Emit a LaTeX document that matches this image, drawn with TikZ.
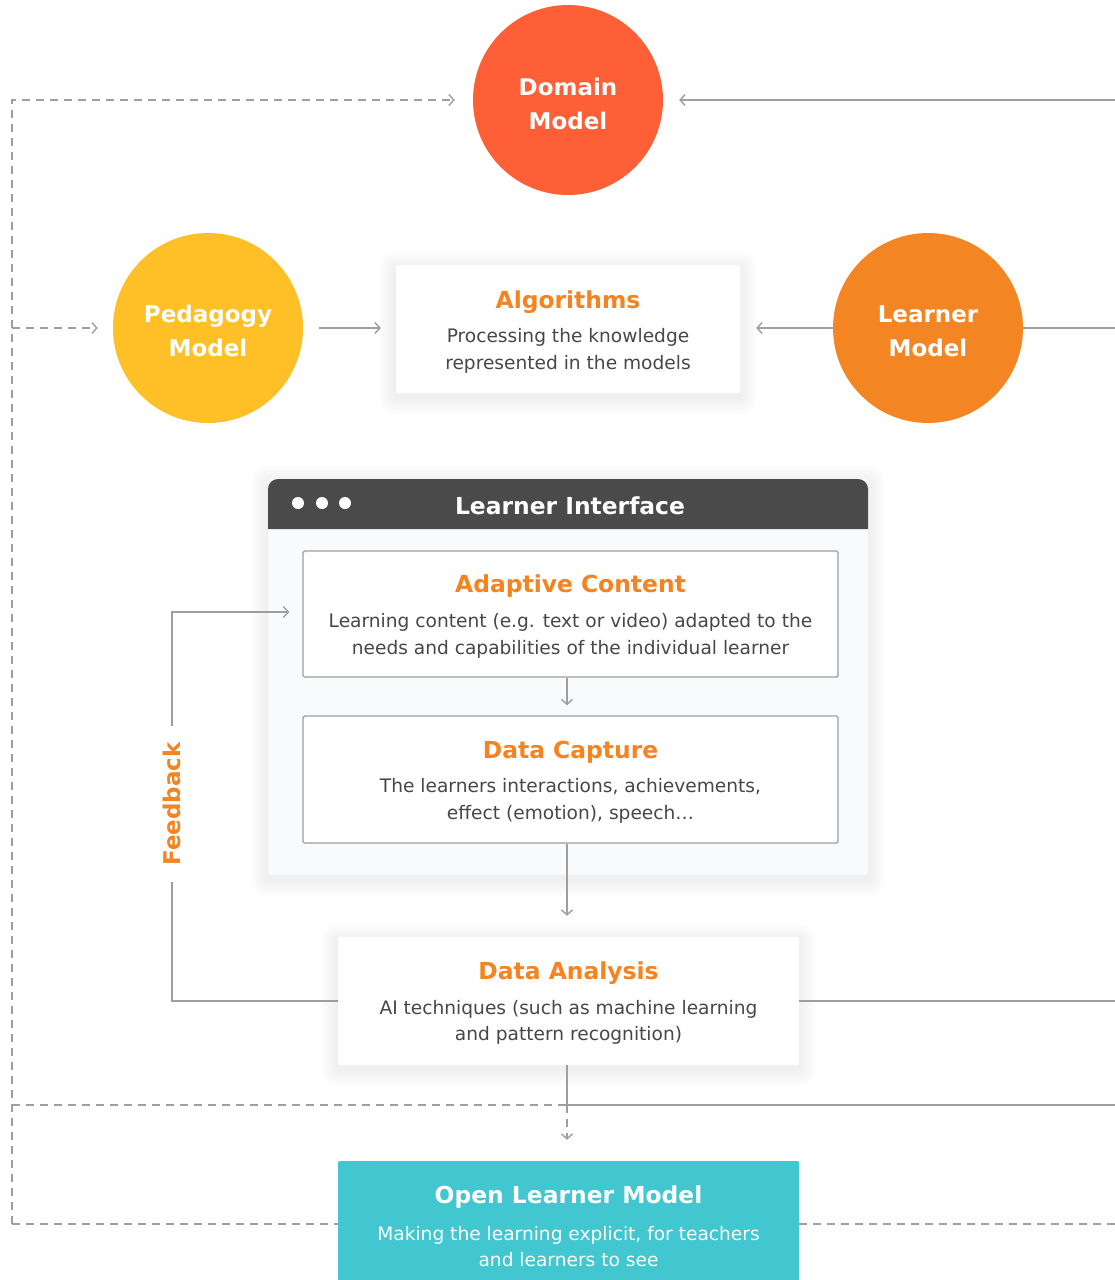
\documentclass[tikz,border=0pt]{standalone}
\usepackage{fontspec}
\setmainfont{DejaVu Sans}
\usetikzlibrary{arrows.meta,calc}

\definecolor{domainc}{HTML}{FF5F36}
\definecolor{pedac}{HTML}{FEC026}
\definecolor{learnc}{HTML}{F38623}
\definecolor{accent}{HTML}{F5831F}
\definecolor{tealc}{HTML}{42C6CF}
\definecolor{linec}{HTML}{9E9E9E}
\definecolor{textc}{HTML}{474747}
\definecolor{headc}{HTML}{4A4A4A}
\definecolor{panelc}{HTML}{F9FAFC}

% soft drop shadow: stacked translucent rounded rectangles behind a node
\newcommand{\softshadow}[1]{%
  \foreach \g in {1,...,16}{
    \fill[black, opacity=0.0045, rounded corners=\g pt]
      ($(#1.north west)+(-\g*1.1pt,\g*1.1pt-4pt)$) rectangle ($(#1.south east)+(\g*1.1pt,-\g*1.1pt-4pt)$);
  }}

\tikzset{
  model/.style={circle, minimum size=190pt, inner sep=0pt},
  modeltxt/.style={text=white, align=center, inner sep=0pt,
    font=\bfseries\fontsize{23}{34}\selectfont},
  card/.style={rectangle, fill=white, rounded corners=2pt, inner sep=0pt},
  inbox/.style={rectangle, fill=white, draw=linec, line width=1.4pt, rounded corners=1.5pt, inner sep=0pt},
  panel/.style={rectangle, fill=panelc, rounded corners=3pt, inner sep=0pt},
  ttl/.style={text=accent, font=\bfseries\fontsize{23.4}{28}\selectfont, inner sep=0pt},
  bodytxt/.style={text=textc, align=center, font=\fontsize{18.6}{26.5}\selectfont, inner sep=0pt},
  conn/.style={draw=linec, line width=1.4pt},
  dconn/.style={draw=linec, line width=1.4pt, dash pattern=on 8pt off 6pt},
  >={Straight Barb[length=5pt,width=11pt]}
}

\begin{document}
\begin{tikzpicture}[x=1pt,y=-1pt]
\clip (0,0) rectangle (1115,1280);
\fill[white] (0,0) rectangle (1115,1280);

% edge coordinates for loops that leave the canvas, and the flow column
\coordinate (lb) at (12,1224);
\coordinate (rx) at (1115,0);
\coordinate (col) at (567,0);

% the three models
\node[model, fill=domainc] (dom) at (568,100) {};
\node[modeltxt] (domT) at (568,104) {Domain\\Model};
\node[model, fill=pedac] (ped) at (208,328) {};
\node[modeltxt] (pedT) at (208,331) {Pedagogy\\Model};
\node[model, fill=learnc] (lm) at (928,328) {};
\node[modeltxt] (lmT) at (928,331) {Learner\\Model};

% algorithms card
\path (568,329) node[minimum width=344pt, minimum height=128pt, inner sep=0pt] (algS) {};
\softshadow{algS}
\node[card, minimum width=344pt, minimum height=128pt] (alg) at (568,329) {};
\node[ttl] (algT) at (568,302) {Algorithms};
\node[bodytxt] (algB) at (568,351) {Processing the knowledge\\represented in the models};

% learner interface window
\path (568,677) node[minimum width=600pt, minimum height=396pt, inner sep=0pt] (winS) {};
\softshadow{winS}
\node[panel, minimum width=600pt, minimum height=396pt] (win) at (568,677) {};
\fill[headc] (268,529) [rounded corners=10pt] -- (268,479) -- (868,479) [sharp corners] -- (868,529) -- cycle;
\fill[white] (298,503) circle (6pt) (322,503) circle (6pt) (345,503) circle (6pt);
\node[text=white, font=\bfseries\fontsize{23.4}{28}\selectfont, inner sep=0pt] (winT) at (570,506) {Learner Interface};

\node[inbox, minimum width=535pt, minimum height=126pt] (ac) at (570.5,614) {};
\node[ttl] (acT) at (570.5,586) {Adaptive Content};
\node[bodytxt] (acB) at (570.5,636) {Learning content (e.g. text or video) adapted to the\\needs and capabilities of the individual learner};

\node[inbox, minimum width=535pt, minimum height=127pt] (dc) at (570.5,779.5) {};
\node[ttl] (dcT) at (570.5,752) {Data Capture};
\node[bodytxt] (dcB) at (570.5,801) {The learners interactions, achievements,\\effect (emotion), speech…};

% data analysis card
\path (568.5,1001) node[minimum width=461pt, minimum height=128pt, inner sep=0pt] (daS) {};
\softshadow{daS}
\node[card, minimum width=461pt, minimum height=128pt] (da) at (568.5,1001) {};
\node[ttl] (daT) at (568.5,973) {Data Analysis};
\node[bodytxt] (daB) at (568.5,1022.5) {AI techniques (such as machine learning\\and pattern recognition)};

% open learner model
\node[rectangle, fill=tealc, minimum width=461pt, minimum height=132pt, inner sep=0pt, rounded corners=2pt] (olm) at (568.5,1227) {};
\node[text=white, font=\bfseries\fontsize{23.4}{28}\selectfont, inner sep=0pt] (olmT) at (568.5,1197) {Open Learner Model};
\node[text=white, align=center, font=\fontsize{18.6}{26.5}\selectfont, inner sep=0pt] (olmB) at (568.5,1246.5) {Making the learning explicit, for teachers\\and learners to see};

% solid connectors
\draw[conn,->,shorten <=16pt,shorten >=15pt] (ped.east) -- (ped.east -| alg.west);
\draw[conn,->,shorten >=16pt] (lm.west) -- (lm.west -| alg.east);
\draw[conn] (lm.east) -- (lm.east -| rx);
\draw[conn,->,shorten >=16pt] (dom.east -| rx) -- (dom.east);
\draw[conn,->,shorten >=10pt] (ac.south -| col) -- (dc.north -| col);
\draw[conn,->,shorten >=21pt] (dc.south -| col) -- (da.north -| col);
\draw[conn] (da.east) -- (da.east -| rx);
\coordinate (jn) at (567,1105);
\draw[conn] (da.south -| col) -- (jn) -- (jn -| rx);

% feedback loop
\coordinate (fbtop) at (172,612);
\draw[conn,->,shorten >=13pt] (da.west) -| (fbtop) -- (fbtop -| ac.west);
\node[fill=white, rotate=90, inner xsep=16pt, inner ysep=2pt, text=accent,
  font=\bfseries\fontsize{23}{28}\selectfont] (fb) at (172,804) {Feedback};

% dashed loop from the open learner model back to the models
\draw[dconn,->,shorten >=18pt] (lb) |- (dom.west);
\draw[dconn,->,shorten >=15pt] (lb |- ped.west) -- (ped.west);
\draw[dconn] (lb |- jn) -- (jn);
\draw[dconn,->,shorten >=21pt] (jn) -- (jn |- olm.north);
\draw[dconn] (lb) -- (lb -| olm.west);
\draw[dconn] (lb -| olm.east) -- (lb -| rx);
\end{tikzpicture}
\end{document}
